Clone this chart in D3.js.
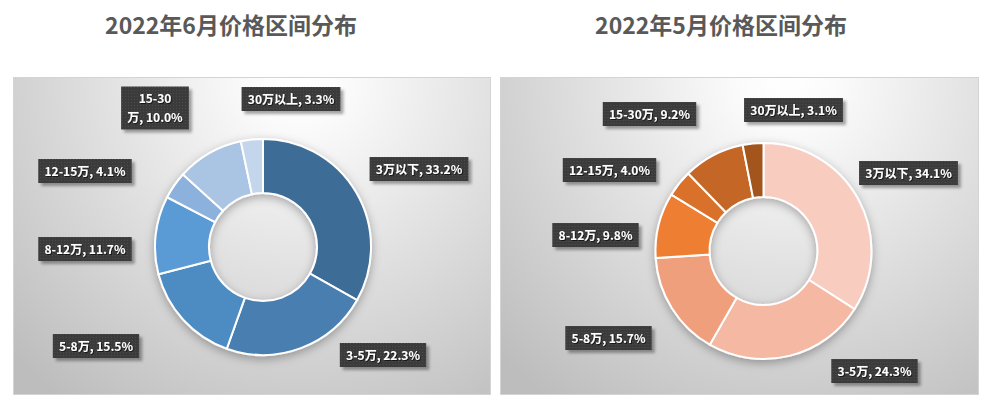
<!DOCTYPE html>
<html>
<head>
<meta charset="utf-8">
<script src="https://cdn.jsdelivr.net/npm/d3@7"></script>
<style>
body { margin: 0; background: #fff; }
svg { display: block; font-family: "Noto Sans CJK SC", "Microsoft YaHei", sans-serif; }
</style>
</head>
<body>
<svg id="chart"></svg>
<script>
// price band share, June vs May 2022
var categories = ["3万以下", "3-5万", "5-8万", "8-12万", "12-15万", "15-30万", "30万以上"];
var juneValues = [33.2, 22.3, 15.5, 11.7, 4.1, 10.0, 3.3];
var mayValues  = [34.1, 24.3, 15.7, 9.8, 4.0, 9.2, 3.1];
var titles = ["2022年6月价格区间分布", "2022年5月价格区间分布"];

var juneColors = ["#3e6c96", "#4a7eb0", "#4d8cc3", "#5a9bd6", "#8cb1dc", "#aac4e4", "#c4d6ec"];
var mayColors  = ["#f8cdc0", "#f4b8a3", "#f09f7c", "#ed7e31", "#d9712a", "#c36628", "#a4541f"];

// label box centres, relative to the donut centre (dragged by hand in the original)
var juneLabelPos = [[156, -78], [120, 108], [-167, 99], [-178, 2], [-178, -76], [-108, -139], [28, -148]];
var mayLabelPos  = [[145, -78], [111, 120], [-155, 87], [-168, -16], [-154, -81], [-114, -137], [30, -141]];

var width = 986, height = 399;
var svg = d3.select("#chart").attr("width", width).attr("height", height);
var defs = svg.append("defs");

// dotted dark fill for labels
var pat = defs.append("pattern").attr("id", "dots")
	.attr("width", 3).attr("height", 3).attr("patternUnits", "userSpaceOnUse");
pat.append("rect").attr("width", 3).attr("height", 3).attr("fill", "#3b3b3b");
pat.append("rect").attr("width", 1).attr("height", 1).attr("fill", "#4c4c4c");

var sh = defs.append("filter").attr("id", "boxShadow")
	.attr("x", "-20%").attr("y", "-30%").attr("width", "150%").attr("height", "180%");
sh.append("feDropShadow").attr("dx", 3).attr("dy", 3).attr("stdDeviation", 1.5)
	.attr("flood-color", "#000").attr("flood-opacity", 0.35);

var ds = defs.append("filter").attr("id", "donutShadow")
	.attr("x", "-20%").attr("y", "-20%").attr("width", "140%").attr("height", "140%");
ds.append("feDropShadow").attr("dx", 0).attr("dy", 3).attr("stdDeviation", 5)
	.attr("flood-color", "#000").attr("flood-opacity", 0.3);

var ts = defs.append("filter").attr("id", "textShadow");
ts.append("feDropShadow").attr("dx", 1).attr("dy", 1).attr("stdDeviation", 0.3)
	.attr("flood-color", "#000").attr("flood-opacity", 0.6);

var panels = [
	{ x: 13,  y: 77, w: 477, h: 317, cx: 263, cy: 247, titleX: 231, values: juneValues, colors: juneColors, pos: juneLabelPos, title: titles[0] },
	{ x: 500, y: 77, w: 478, h: 317, cx: 763.5, cy: 251, titleX: 721, values: mayValues, colors: mayColors, pos: mayLabelPos, title: titles[1] }
];

var pie = d3.pie().sort(null).value(function(d) { return d; });
var arc = d3.arc().innerRadius(54).outerRadius(108);

panels.forEach(function(p, pi) {
	var grad = defs.append("radialGradient").attr("id", "bg" + pi)
		.attr("gradientUnits", "userSpaceOnUse")
		.attr("cx", p.x + p.w * 0.6).attr("cy", p.y).attr("r", 400);
	grad.append("stop").attr("offset", 0).attr("stop-color", "#ffffff");
	grad.append("stop").attr("offset", 0.12).attr("stop-color", "#fbfbfb");
	grad.append("stop").attr("offset", 1).attr("stop-color", "#bdbdbd");

	svg.append("text")
		.attr("x", p.titleX).attr("y", 34)
		.attr("text-anchor", "middle")
		.attr("font-size", 23).attr("font-weight", "bold")
		.attr("fill", "#595959")
		.text(p.title);

	svg.append("rect")
		.attr("x", p.x + 0.5).attr("y", p.y + 0.5)
		.attr("width", p.w).attr("height", p.h)
		.attr("fill", "url(#bg" + pi + ")")
		.attr("stroke", "#d4d4d4");

	var g = svg.append("g").attr("transform", "translate(" + p.cx + "," + p.cy + ")");
	g.append("g").attr("filter", "url(#donutShadow)")
		.selectAll("path")
		.data(pie(p.values))
		.join("path")
		.attr("d", arc)
		.attr("fill", function(d, i) { return p.colors[i]; })
		.attr("stroke", "#fff")
		.attr("stroke-width", 2);

	categories.forEach(function(c, i) {
		var label = c + ", " + p.values[i].toFixed(1) + "%";
		var lines = [label];
		// June's 15-30万 label wraps in the original
		if (pi === 0 && i === 5)
			lines = ["15-30", "万, " + p.values[i].toFixed(1) + "%"];
		var lg = g.append("g").attr("transform", "translate(" + p.pos[i][0] + "," + p.pos[i][1] + ")");
		var box = lg.append("rect").attr("fill", "url(#dots)").attr("filter", "url(#boxShadow)");
		var t = lg.append("text")
			.attr("text-anchor", "middle")
			.attr("font-size", 12).attr("font-weight", "bold")
			.attr("fill", "#fff")
			.attr("filter", "url(#textShadow)");
		lines.forEach(function(l, li) {
			t.append("tspan").attr("x", 0)
				.attr("y", (li - (lines.length - 1) / 2) * 19 + 4.5)
				.text(l);
		});
		var bb = t.node().getBBox();
		var bw = bb.width + 12, bh = lines.length === 1 ? 24 : 43;
		box.attr("x", -bw / 2).attr("y", -bh / 2).attr("width", bw).attr("height", bh);
	});
});
</script>
</body>
</html>
